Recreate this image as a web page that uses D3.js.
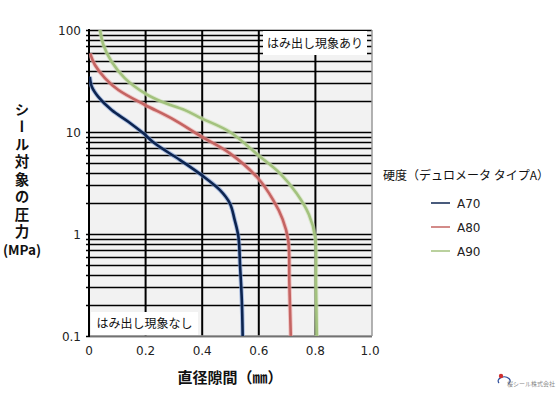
<!DOCTYPE html>
<html>
<head>
<meta charset="utf-8">
<script src="https://cdn.jsdelivr.net/npm/d3@7"></script>
<style>
  body { margin: 0; background: #fff; }
  svg { display: block; }
</style>
</head>
<body>
<div id="chart"></div>
<script>
// series: gap (mm) vs pressure (MPa)
const series = ['A70', 'A80', 'A90'];
const colors = ['#0c2450', '#c46462', '#a3c27e'];

const gapA70 = [0.003, 0.01, 0.033, 0.08, 0.139, 0.192, 0.233, 0.322, 0.398, 0.463, 0.498, 0.514, 0.528, 0.534, 0.540, 0.543];
const presA70 = [34.8, 27.8, 22.1, 16.4, 12.6, 9.7, 7.7, 5.3, 3.78, 2.69, 1.99, 1.4, 0.94, 0.475, 0.224, 0.1];

const gapA80 = [0.004, 0.021, 0.057, 0.104, 0.198, 0.292, 0.398, 0.498, 0.598, 0.651, 0.684, 0.704, 0.708, 0.713];
const presA80 = [59, 45.4, 33.6, 25.8, 18.4, 13.6, 9.0, 6.17, 3.5, 2.15, 1.4, 0.87, 0.33, 0.1];

const gapA90 = [0.039, 0.051, 0.080, 0.127, 0.198, 0.257, 0.339, 0.398, 0.498, 0.598, 0.675, 0.734, 0.777, 0.799, 0.802, 0.805];
const presA90 = [100, 71.3, 48.9, 33.6, 23.9, 19.8, 16.4, 13.6, 10.0, 5.93, 3.93, 2.49, 1.55, 0.94, 0.33, 0.1];

const xTicks = [0, 0.2, 0.4, 0.6, 0.8, 1.0];
const xTickLabels = ['0', '0.2', '0.4', '0.6', '0.8', '1.0'];
const yTicks = [0.1, 1, 10, 100];
const yTickLabels = ['0.1', '1', '10', '100'];

const W = 560, H = 394;
const JP = '"Noto Sans CJK JP", "Noto Sans", sans-serif';
const NUM = '"DejaVu Sans", sans-serif';

const svg = d3.select('#chart').append('svg')
    .attr('width', W)
    .attr('height', H);

const x = d3.scaleLinear().domain([0, 1]).range([89, 372]);
const y = d3.scaleLog().domain([0.1, 100]).range([336, 30]);

// plot background
svg.append('rect')
    .attr('x', x(0)).attr('y', y(100))
    .attr('width', x(1) - x(0)).attr('height', y(0.1) - y(100))
    .attr('fill', '#f2f2f2');

// horizontal log grid
svg.append('g').selectAll('line')
    .data(y.ticks())
    .join('line')
    .attr('x1', x(0) - 3).attr('x2', x(1))
    .attr('y1', d => Math.round(y(d)) + 0.5).attr('y2', d => Math.round(y(d)) + 0.5)
    .attr('stroke', '#000')
    .attr('stroke-width', 1.3);

// vertical grid
svg.append('g').selectAll('line')
    .data(xTicks.slice(1, -1))
    .join('line')
    .attr('x1', d => x(d)).attr('x2', d => x(d))
    .attr('y1', y(100)).attr('y2', y(0.1))
    .attr('stroke', '#000')
    .attr('stroke-width', 2);

// frame
svg.append('line')
    .attr('x1', x(1)).attr('x2', x(1)).attr('y1', y(100)).attr('y2', y(0.1))
    .attr('stroke', '#999').attr('stroke-width', 1.5);
svg.append('line')
    .attr('x1', x(0)).attr('x2', x(1)).attr('y1', y(0.1)).attr('y2', y(0.1))
    .attr('stroke', '#999').attr('stroke-width', 1.5);
svg.append('line')
    .attr('x1', x(0)).attr('x2', x(0)).attr('y1', y(100) - 1).attr('y2', y(0.1) + 1)
    .attr('stroke', '#000').attr('stroke-width', 2);

// annotation boxes
function noteBox(x0, y0, w, h, txt) {
    svg.append('rect')
        .attr('x', x0).attr('y', y0).attr('width', w).attr('height', h)
        .attr('fill', '#fff');
    svg.append('text')
        .attr('x', x0 + w / 2).attr('y', y0 + h / 2 + 4.5)
        .attr('text-anchor', 'middle')
        .attr('font-family', JP).attr('font-size', 12)
        .attr('fill', '#111')
        .text(txt);
}
noteBox(263, 31, 104, 24, 'はみ出し現象あり');
noteBox(91, 312, 107, 23, 'はみ出し現象なし');

// curves
svg.append('clipPath').attr('id', 'plotclip')
    .append('rect')
    .attr('x', x(0)).attr('y', y(100) - 2)
    .attr('width', x(1) - x(0)).attr('height', y(0.1) - y(100) + 2);

const curveData = [
    d3.zip(gapA70, presA70),
    d3.zip(gapA80, presA80),
    d3.zip(gapA90, presA90)
];
const halo = ['#7f9fd8', '#f0a8a8', '#cfe3b8'];

const line = d3.line()
    .x(d => x(d[0]))
    .y(d => y(d[1]))
    .curve(d3.curveCatmullRom.alpha(0.5));

const curves = svg.append('g').attr('clip-path', 'url(#plotclip)');
curveData.forEach((pts, i) => {
    curves.append('path')
        .attr('d', line(pts))
        .attr('fill', 'none')
        .attr('stroke', halo[i])
        .attr('stroke-opacity', 0.6)
        .attr('stroke-width', 4.5);
    curves.append('path')
        .attr('d', line(pts))
        .attr('fill', 'none')
        .attr('stroke', colors[i])
        .attr('stroke-width', 2.6);
});

// tick labels
svg.append('g').selectAll('text')
    .data(yTicks)
    .join('text')
    .attr('x', 81)
    .attr('y', d => y(d) + 4.5)
    .attr('text-anchor', 'end')
    .attr('font-family', NUM).attr('font-size', 12)
    .attr('fill', '#222')
    .text((d, i) => yTickLabels[i]);

svg.append('g').selectAll('text')
    .data(xTicks)
    .join('text')
    .attr('x', d => x(d) - (d === 1 ? 2 : 0))
    .attr('y', 355)
    .attr('text-anchor', 'middle')
    .attr('font-family', NUM).attr('font-size', 12)
    .attr('fill', '#222')
    .text((d, i) => xTickLabels[i]);

// axis titles
svg.append('text')
    .attr('x', 230).attr('y', 383)
    .attr('text-anchor', 'middle')
    .attr('font-family', JP).attr('font-size', 15).attr('font-weight', 'bold')
    .attr('fill', '#111')
    .text('直径隙間（㎜）');

// vertical y title, one text in vertical writing mode
svg.append('text')
    .attr('x', 22).attr('y', 102)
    .style('writing-mode', 'vertical-rl')
    .attr('font-family', JP).attr('font-size', 14.5).attr('font-weight', 'bold')
    .attr('letter-spacing', 3)
    .attr('fill', '#111')
    .text('シール対象の圧力');
svg.append('text')
    .attr('x', 22).attr('y', 255)
    .attr('text-anchor', 'middle')
    .attr('font-family', JP).attr('font-size', 13.5).attr('font-weight', 'bold')
    .attr('fill', '#111')
    .text('(MPa)');

// legend
svg.append('text')
    .attr('x', 383).attr('y', 180)
    .attr('font-family', JP).attr('font-size', 12)
    .attr('fill', '#111')
    .text('硬度（デュロメータ タイプA）');

const legend = svg.append('g').selectAll('g')
    .data(series)
    .join('g')
    .attr('transform', (d, i) => `translate(431,${203 + i * 24})`);
legend.append('line')
    .attr('x1', 0).attr('x2', 19)
    .attr('stroke', (d, i) => colors[i])
    .attr('stroke-opacity', 0.75)
    .attr('stroke-width', 2);
legend.append('text')
    .attr('x', 26).attr('y', 4.5)
    .attr('font-family', NUM).attr('font-size', 12)
    .attr('fill', '#222')
    .text(d => d);

// company mark, bottom right
const logo = svg.append('g').attr('transform', 'translate(500,380)');
logo.append('path')
    .attr('d', 'M-1,3 A6,4 0 1,1 8,4')
    .attr('fill', 'none').attr('stroke', '#2a4a9a').attr('stroke-width', 1.2);
logo.append('circle').attr('cx', 1).attr('cy', -4).attr('r', 2.2).attr('fill', '#d03030');
logo.append('text')
    .attr('x', 7).attr('y', 6)
    .attr('font-family', JP).attr('font-size', 6)
    .attr('fill', '#888')
    .text('桜シール株式会社');
</script>
</body>
</html>
